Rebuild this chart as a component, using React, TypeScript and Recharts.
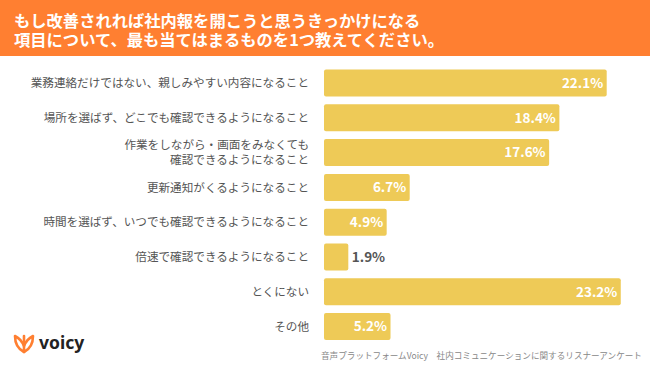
import React from "react";
import { BarChart, Bar, XAxis, YAxis, LabelList } from "recharts";

const categories = [
  "業務連絡だけではない、親しみやすい内容になること",
  "場所を選ばず、どこでも確認できるようになること",
  "作業をしながら・画面をみなくても\n確認できるようになること",
  "更新通知がくるようになること",
  "時間を選ばず、いつでも確認できるようになること",
  "倍速で確認できるようになること",
  "とくにない",
  "その他",
];
const values = [22.1, 18.4, 17.6, 6.7, 4.9, 1.9, 23.2, 5.2];
const titleLines = [
  "もし改善されれば社内報を開こうと思うきっかけになる",
  "項目について、最も当てはまるものを1つ教えてください。",
];
const footerText = "音声プラットフォームVoicy　社内コミュニケーションに関するリスナーアンケート";
const brandName = "voicy";

const data = categories.map((c, i) => ({ name: c, value: values[i] }));

const JP = '"Noto Sans CJK JP", "Noto Sans", sans-serif';

const CategoryTick = (props: any) => {
  const { y, payload } = props;
  const lines = String(payload.value).split("\n");
  const lh = 14.8;
  const start = y - ((lines.length - 1) * lh) / 2;
  return (
    <text x={309} y={start} textAnchor="end" fontFamily={JP} fontSize={11.6} fill="#555">
      {lines.map((l, i) => (
        <tspan key={i} x={309} y={start + i * lh} dy="0.36em">
          {l}
        </tspan>
      ))}
    </text>
  );
};

const ValueLabel = (props: any) => {
  const { x, y, width, height, value } = props;
  const inside = value >= 4;
  const tx = inside ? x + width - 3.5 : x + width + 3.5;
  return (
    <text
      x={tx}
      y={y + height / 2}
      dy="0.36em"
      textAnchor={inside ? "end" : "start"}
      fontFamily={JP}
      fontWeight={700}
      fontSize={13.5}
      fill={inside ? "#ffffff" : "#555"}
    >
      {`${value}%`}
    </text>
  );
};

export default function App() {
  return (
    <div style={{ position: "absolute", left: 0, top: 0, width: 650, height: 366, background: "#fff", overflow: "hidden" }}>
      <div style={{ position: "absolute", left: 0, top: 0, width: 650, height: 56, background: "#FF7F31" }} />
      <div
        style={{
          position: "absolute",
          left: 14,
          top: 11,
          color: "#fff",
          fontFamily: JP,
          fontWeight: 700,
          fontSize: 16.3,
          lineHeight: "19px",
          whiteSpace: "nowrap",
        }}
      >
        {titleLines[0]}
        <br />
        {titleLines[1]}
      </div>
      <div style={{ position: "absolute", left: 0, top: 0 }}>
        <BarChart
          width={650}
          height={366}
          data={data}
          layout="vertical"
          margin={{ top: 65.6, right: 6.2, bottom: 22, left: 8 }}
          barCategoryGap="11.2%"
        >
          <XAxis type="number" hide domain={[0, 25]} />
          <YAxis
            type="category"
            dataKey="name"
            width={316}
            axisLine={false}
            tickLine={false}
            tick={<CategoryTick />}
            interval={0}
          />
          <Bar dataKey="value" fill="#EECA57" radius={2} isAnimationActive={false}>
            <LabelList dataKey="value" content={<ValueLabel />} />
          </Bar>
        </BarChart>
      </div>
      <div
        style={{
          position: "absolute",
          left: 321,
          top: 349,
          fontFamily: JP,
          fontSize: 8.6,
          color: "#888",
          whiteSpace: "nowrap",
          lineHeight: "12px",
        }}
      >
        {footerText}
      </div>
      <svg style={{ position: "absolute", left: 12, top: 330 }} width={24} height={26} viewBox="0 0 24 26">
        <path
          d="M12 22 C6 19 3 14 3 6 C7 8 10 11 12 16 C14 11 17 8 21 6 C21 14 18 19 12 22 Z"
          fill="none"
          stroke="#FF7F31"
          strokeWidth={2.6}
          strokeLinejoin="round"
        />
        <path d="M12 22 L12 6" stroke="#FF7F31" strokeWidth={2.6} strokeLinecap="round" />
      </svg>
      <div
        style={{
          position: "absolute",
          left: 39,
          top: 331,
          fontFamily: '"Noto Sans", sans-serif',
          fontWeight: 700,
          fontSize: 17.5,
          lineHeight: "22px",
          color: "#222",
        }}
      >
        {brandName}
      </div>
    </div>
  );
}
